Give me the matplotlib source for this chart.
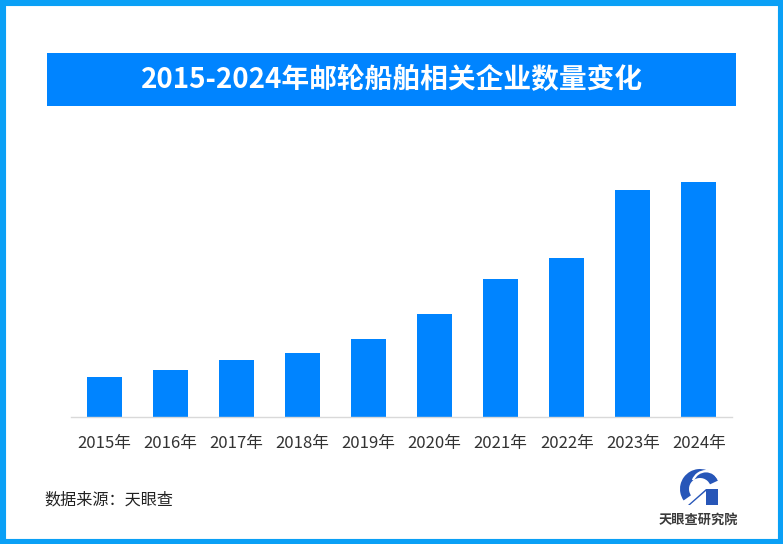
import matplotlib
matplotlib.use('agg')
import matplotlib.pyplot as plt
from matplotlib.patches import Rectangle, Wedge, Polygon

plt.rcParams['font.family'] = ['Noto Sans CJK SC', 'DejaVu Sans']

# data (relative heights, no y axis shown)
years = ['2015年', '2016年', '2017年', '2018年', '2019年',
         '2020年', '2021年', '2022年', '2023年', '2024年']
counts = [40, 47, 57, 64, 78, 103, 138, 159, 227, 235]

W, H = 783, 544
fig = plt.figure(figsize=(W / 100, H / 100), dpi=100)

def px(x0, y0, w, h):
    """pixel box (top-left origin) -> figure fraction rect"""
    return [x0 / W, 1 - (y0 + h) / H, w / W, h / H]

# outer border
fig.patches.append(Rectangle((0, 0), 1, 1, transform=fig.transFigure,
                             fill=False, edgecolor='#0AA0F6', linewidth=8))

# title banner
fig.patches.append(Rectangle((47 / W, 1 - 106 / H), 689 / W, 53 / H,
                             transform=fig.transFigure, facecolor='#0084FF',
                             edgecolor='none'))
fig.text(392 / W, 1 - 80 / H, '2015-2024年邮轮船舶相关企业数量变化',
         color='white', fontsize=20, fontweight='bold',
         ha='center', va='center')

# bar chart
ax = fig.add_axes(px(71, 170, 661, 247))
ax.bar(range(len(years)), counts, width=0.53, color='#0084FF')
ax.set_xlim(-0.5, len(years) - 0.5)
ax.set_ylim(0, 247)
ax.set_xticks(range(len(years)))
ax.set_xticklabels(years, fontsize=12, color='#333333')
ax.tick_params(axis='x', length=0, pad=13)
ax.set_yticks([])
for s in ['top', 'right', 'left']:
    ax.spines[s].set_visible(False)
ax.spines['bottom'].set_color('#d9d9d9')
ax.spines['bottom'].set_linewidth(1)

# source
fig.text(44 / W, 1 - 500 / H, '数据来源：天眼查', fontsize=11.6,
         color='#222222', ha='left', va='center')

# logo
lax = fig.add_axes(px(676, 466, 46, 40))
lax.set_xlim(-1.15, 1.15)
lax.set_ylim(-1.0, 1.0)
lax.axis('off')
lax.add_patch(Wedge((0.05, -0.15), 1.0, 25, 215, width=0.45,
                    facecolor='#2756B8', edgecolor='none'))
lax.add_patch(Wedge((0.35, 0.05), 0.75, 20, 160, width=0.12,
                    facecolor='white', edgecolor='none'))
lax.add_patch(Polygon([(-0.55, -0.95), (0.35, -0.15), (0.95, -0.15),
                       (0.95, -0.95)], closed=True, facecolor='#2756B8',
                      edgecolor='none'))
lax.add_patch(Polygon([(-0.45, -0.95), (0.35, -0.25), (0.35, -0.95)],
                      closed=True, facecolor='white', edgecolor='none'))
fig.text(698 / W, 1 - 520 / H, '天眼查研究院', fontsize=9.5,
         fontweight='bold', color='#3a3a3a', ha='center', va='center')

fig.savefig('out.png', dpi=100)
